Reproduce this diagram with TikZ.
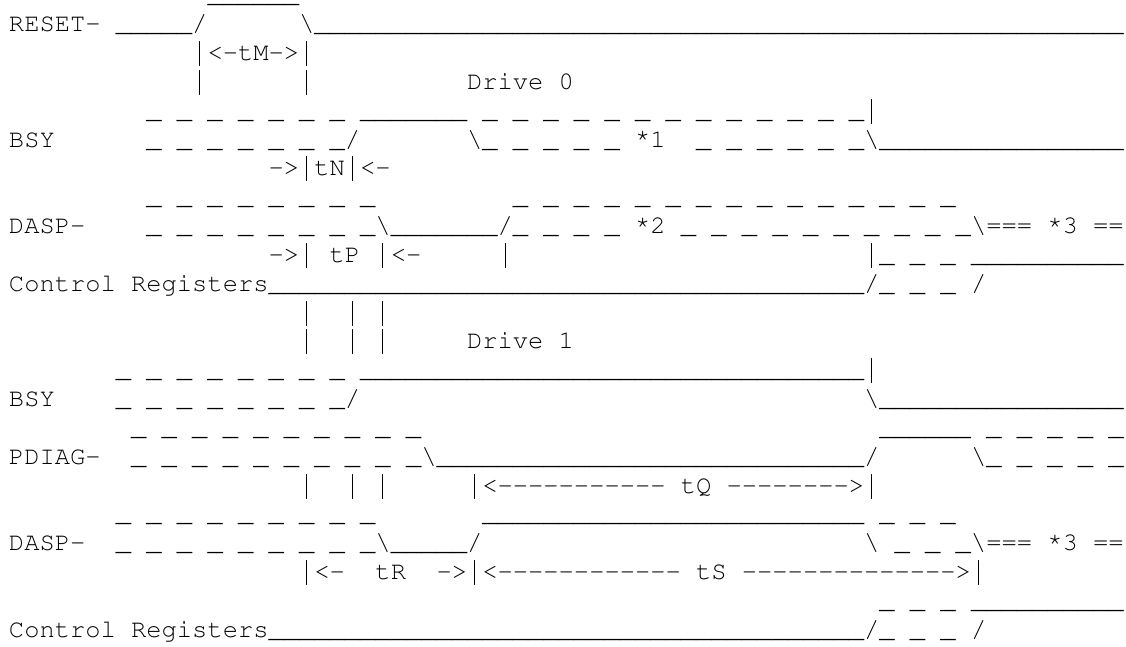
\documentclass[tikz,border=0pt]{standalone}
\usepackage[T1]{fontenc}
\usepackage{courier}
\newlength\cw
\setlength\cw{15.27pt}
\ExplSyntaxOn
\cs_new:Npn \myrep #1#2 { \prg_replicate:nn {#1} {#2} }
\ExplSyntaxOff
\newcommand\xs[1]{\hspace*{#1\cw}}
\newcommand\xu[1]{\myrep{#1}{\char95\relax}}
\newcommand\xd[1]{\myrep{#1}{\char95\relax\hspace*{\cw}}}
\newcommand\xh[1]{\myrep{#1}{-\kern0pt}}
\newcommand\xb{\char92\relax}
\newcommand\xa{\raisebox{0.2em}{*}}
\newcommand\xp{\makebox[\cw][c]{\fontfamily{lmtt}\selectfont|}}
\tikzset{asc/.style={anchor=base west, inner sep=0pt, outer sep=0pt,
  font=\ttfamily\fontsize{25.45pt}{28.83pt}\selectfont\frenchspacing}}
\begin{document}
\begin{tikzpicture}[x=1pt,y=1pt]
\useasboundingbox (0,0) rectangle (1126,-647);
\fill[white] (0,0) rectangle (1126,-647);
\def\X{9}
\node[asc] (l0) at (\X,-3) {\xs{13}\xu{6}};
\node[asc] (l1) at (\X,-31.83) {RESET-\xs{1}\xu{5}/\xs{6}\xb\xu{53}};
\node[asc] (l2) at (\X,-60.66) {\xs{12}\xp<-tM->\xp};
\node[asc] (l3) at (\X,-89.49) {\xs{12}\xp\xs{6}\xp\xs{10}Drive\xs{1}0};
\node[asc] (l4) at (\X,-118.32) {\xs{9}\xd{7}\xu{7}\xs{1}\xd{12}\xu{1}\xp};
\node[asc] (l5) at (\X,-147.15) {BSY\xs{6}\xd{6}\xu{1}/\xs{7}\xb\xd{5}\xa1\xs{2}\xd{5}\xu{1}\xb\xu{16}};
\node[asc] (l6) at (\X,-175.98) {\xs{17}->\xp tN\xp<-};
\node[asc] (l7) at (\X,-204.81) {\xs{9}\xd{8}\xs{8}\xd{14}\xu{1}};
\node[asc] (l8) at (\X,-233.64) {DASP-\xs{4}\xd{7}\xu{1}\xb\xu{7}/\xd{4}\xa2\xs{1}\xd{9}\xu{1}\xb===\xs{1}\xa3\xs{1}==};
\node[asc] (l9) at (\X,-262.47) {\xs{17}->\xp\xs{1}tP\xs{1}\xp<-\xs{5}\xp\xs{23}\xp\xd{3}\xu{10}};
\node[asc] (l10) at (\X,-291.30) {Control\xs{1}Registers\xu{39}/\xd{3}/};
\node[asc] (l11) at (\X,-320.13) {\xs{19}\xp\xs{2}\xp\xs{1}\xp};
\node[asc] (l12) at (\X,-348.96) {\xs{19}\xp\xs{2}\xp\xs{1}\xp\xs{5}Drive\xs{1}1};
\node[asc] (l13) at (\X,-377.79) {\xs{7}\xd{8}\xu{33}\xp};
\node[asc] (l14) at (\X,-406.62) {BSY\xs{4}\xd{7}\xu{1}/\xs{33}\xb\xu{16}};
\node[asc] (l15) at (\X,-435.45) {\xs{8}\xd{10}\xs{29}\xu{6}\xs{1}\xd{4}\xu{1}};
\node[asc] (l16) at (\X,-464.28) {PDIAG-\xs{2}\xd{9}\xu{1}\xb\xu{28}/\xs{6}\xb\xd{4}\xu{1}};
\node[asc] (l17) at (\X,-493.11) {\xs{19}\xp\xs{2}\xp\xs{1}\xp\xs{5}\xp<\xh{11}\xs{1}tQ\xs{1}\xh{8}>\xp};
\node[asc] (l18) at (\X,-521.94) {\xs{7}\xd{8}\xu{1}\xs{7}\xu{25}\xs{1}\xd{2}\xu{1}};
\node[asc] (l19) at (\X,-550.77) {DASP-\xs{2}\xd{8}\xu{1}\xb\xu{5}/\xs{25}\xb\xs{1}\xd{2}\xu{1}\xb===\xs{1}\xa3\xs{1}==};
\node[asc] (l20) at (\X,-579.60) {\xs{19}\xp<-\xs{2}tR\xs{2}->\xp<\xh{12}\xs{1}tS\xs{1}\xh{14}>\xp};
\node[asc] (l21) at (\X,-608.43) {\xs{57}\xd{3}\xu{10}};
\node[asc] (l22) at (\X,-637.26) {Control\xs{1}Registers\xu{39}/\xd{3}/};
\end{tikzpicture}
\end{document}
